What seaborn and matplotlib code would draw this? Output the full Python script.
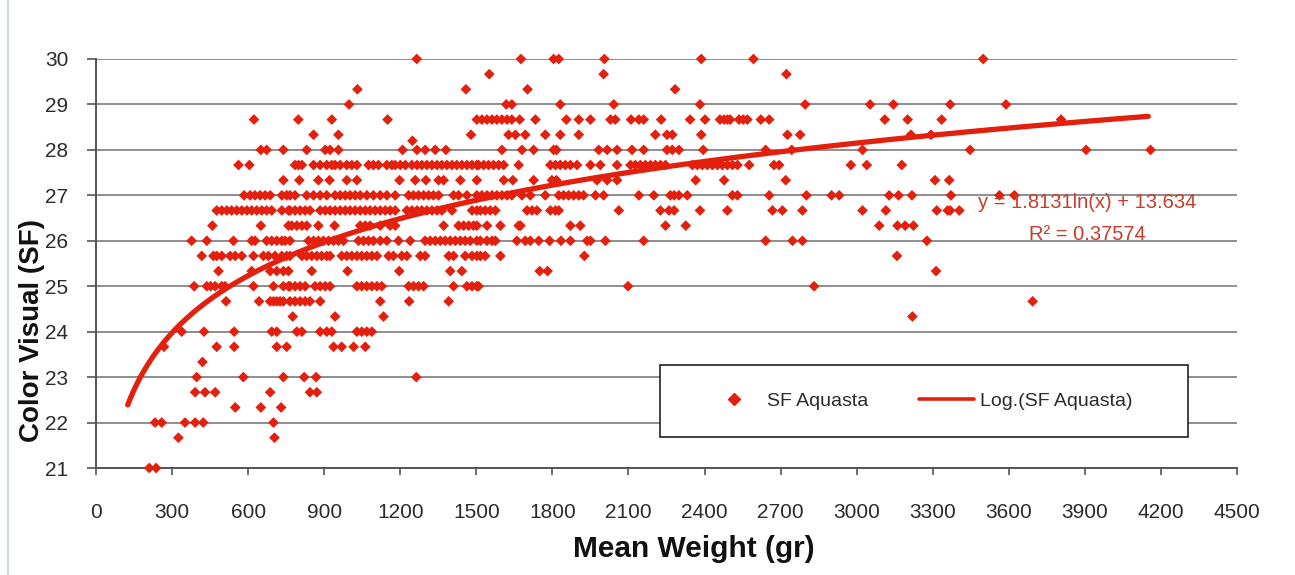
import numpy as np
import pandas as pd
import matplotlib
matplotlib.use("Agg")
import matplotlib.pyplot as plt
import seaborn as sns
from matplotlib.lines import Line2D
from matplotlib.patches import Rectangle

# ---------------- data (Mean Weight values, grouped by Color Visual score) ----------------
w_3000 = [1265, 1676, 1805, 1825, 2005, 2387, 2593, 3499]
w_2967 = [1551, 2002, 2723]
w_2933 = [1031, 1459, 1702, 2284]
w_2900 = [998, 1618, 1640, 1831, 2042, 2382, 2797, 3053, 3145, 3369, 3589]
w_2867 = [623, 798, 930, 1150, 1502, 1522, 1542, 1562, 1581, 1601, 1621, 1640, 1671, 1733,
          1855, 1904, 1950, 2029, 2048, 2110, 2141, 2160, 2229, 2343, 2402, 2461, 2477, 2490,
          2501, 2536, 2553, 2569, 2622, 2655, 3111, 3201, 3335, 3806]
w_2833 = [858, 956, 1479, 1627, 1654, 1693, 1772, 1831, 1904, 2206, 2252, 2273, 2387, 2727,
          2777, 3214, 3293]
w_2820 = [1248]
w_2800 = [650, 673, 739, 831, 904, 923, 956, 1209, 1266, 1298, 1338, 1380, 1601, 1680, 1726,
          1805, 1816, 1983, 2016, 2055, 2114, 2160, 2252, 2273, 2299, 2395, 2641, 2744, 3023,
          3447, 3905, 4159]
w_2767 = [562, 605, 785, 798, 812, 858, 884, 910, 930, 943, 963, 989, 1009, 1029, 1075, 1094,
          1114, 1147, 1167, 1180, 1200, 1220, 1246, 1266, 1285, 1305, 1325, 1345, 1364, 1384,
          1404, 1423, 1443, 1463, 1483, 1502, 1509, 1529, 1548, 1568, 1588, 1608, 1667, 1792,
          1812, 1831, 1851, 1871, 1897, 1950, 1989, 2055, 2108, 2127, 2147, 2167, 2187, 2206,
          2226, 2246, 2352, 2372, 2391, 2411, 2431, 2451, 2470, 2490, 2510, 2530, 2576, 2674,
          2694, 2977, 3040, 3178]
w_2733 = [739, 802, 877, 921, 989, 1029, 1197, 1259, 1301, 1351, 1371, 1437, 1502, 1608, 1644,
          1726, 1798, 1816, 1976, 2016, 2055, 2365, 2477, 2720, 3309, 3365]
w_2700 = [584, 608, 627, 647, 667, 687, 733, 752, 765, 785, 831, 858, 884, 910, 943, 963, 983,
          1002, 1022, 1042, 1068, 1094, 1121, 1147, 1180, 1233, 1252, 1272, 1292, 1312, 1331,
          1351, 1410, 1430, 1463, 1502, 1522, 1542, 1562, 1581, 1601, 1621, 1640, 1680, 1713,
          1772, 1825, 1844, 1864, 1884, 1904, 1923, 1970, 2002, 2141, 2200, 2265, 2280, 2299,
          2332, 2510, 2530, 2655, 2802, 2901, 2931, 3128, 3165, 3218, 3372, 3563, 3622]
w_2667 = [476, 496, 516, 535, 555, 575, 595, 614, 634, 654, 673, 693, 733, 759, 765, 785, 805,
          825, 844, 884, 904, 923, 943, 963, 983, 1002, 1022, 1042, 1062, 1081, 1101, 1121,
          1141, 1160, 1180, 1226, 1246, 1266, 1285, 1305, 1325, 1345, 1364, 1404, 1483, 1502,
          1516, 1535, 1555, 1575, 1700, 1720, 1739, 1792, 1812, 1825, 2062, 2226, 2260, 2280,
          2382, 2490, 2668, 2707, 2786, 3023, 3115, 3316, 3359, 3369, 3405]
w_2633 = [459, 650, 759, 772, 792, 812, 831, 877, 941, 1042, 1062, 1081, 1121, 1160, 1180,
          1371, 1430, 1450, 1470, 1489, 1502, 1542, 1595, 1667, 1674, 1871, 1910, 2246, 2326,
          3089, 3161, 3191, 3224]
w_2600 = [377, 437, 542, 614, 627, 673, 693, 713, 733, 746, 765, 838, 858, 877, 897, 917, 937,
          956, 976, 1035, 1055, 1075, 1094, 1121, 1147, 1193, 1239, 1298, 1318, 1338, 1358,
          1377, 1397, 1417, 1437, 1456, 1476, 1502, 1516, 1542, 1562, 1575, 1660, 1693, 1713,
          1746, 1789, 1834, 1871, 1937, 1950, 2009, 2160, 2641, 2747, 2786, 3277]
w_2567 = [417, 463, 476, 496, 529, 549, 575, 621, 660, 680, 706, 733, 752, 765, 812, 831, 851,
          871, 890, 910, 923, 969, 989, 1009, 1029, 1048, 1068, 1088, 1108, 1154, 1173, 1206,
          1226, 1279, 1298, 1391, 1410, 1456, 1483, 1502, 1516, 1535, 1595, 1926, 3159]
w_2533 = [483, 614, 687, 713, 739, 759, 851, 992, 1196, 1397, 1443, 1750, 1781, 3313]
w_2500 = [387, 437, 452, 470, 496, 509, 621, 700, 739, 759, 765, 785, 805, 825, 864, 884, 904,
          923, 1029, 1048, 1068, 1088, 1108, 1127, 1233, 1252, 1272, 1292, 1410, 1463, 1483,
          1502, 1509, 2098, 2832]
w_2467 = [513, 643, 687, 700, 713, 726, 739, 765, 785, 805, 825, 844, 884, 1121, 1235, 1391,
          3694]
w_2433 = [776, 943, 1134, 3220]
w_2400 = [338, 426, 545, 693, 713, 792, 812, 884, 910, 930, 1029, 1048, 1068, 1088]
w_2367 = [268, 476, 545, 713, 752, 937, 969, 1016, 1062]
w_2333 = [420]
w_2300 = [397, 581, 739, 821, 868, 1263]
w_2267 = [391, 430, 470, 687, 844, 871]
w_2233 = [549, 650, 730]
w_2200 = [233, 259, 351, 391, 423, 700]
w_2167 = [325, 704]
w_2100 = [210, 237]

color_levels = [30.0, 29.667, 29.333, 29.0, 28.667, 28.333, 28.2, 28.0, 27.667, 27.333, 27.0,
                26.667, 26.333, 26.0, 25.667, 25.333, 25.0, 24.667, 24.333, 24.0, 23.667,
                23.333, 23.0, 22.667, 22.333, 22.0, 21.667, 21.0]
weight_groups = [w_3000, w_2967, w_2933, w_2900, w_2867, w_2833, w_2820, w_2800, w_2767,
                 w_2733, w_2700, w_2667, w_2633, w_2600, w_2567, w_2533, w_2500, w_2467,
                 w_2433, w_2400, w_2367, w_2333, w_2300, w_2267, w_2233, w_2200, w_2167, w_2100]

trend_a = 1.8131
trend_b = 13.634
trend_r2 = 0.37574
trend_start, trend_end = 125, 4150

x_ticks = list(range(0, 4501, 300))
y_ticks = list(range(21, 31))

# ---------------- build frame ----------------
weights, colors = [], []
for lvl, grp in zip(color_levels, weight_groups):
    weights.extend(grp)
    colors.extend([lvl] * len(grp))
df = pd.DataFrame({"Mean Weight (gr)": weights, "Color Visual (SF)": colors})

tx = np.linspace(trend_start, trend_end, 400)
trend = pd.DataFrame({"x": tx, "y": trend_a * np.log(tx) + trend_b})

# ---------------- style ----------------
sns.set_theme(style="white")
plt.rcParams["font.family"] = ["Liberation Sans", "DejaVu Sans"]

RED = "#e31f0d"
TXT = "#2b2b2b"

fig = plt.figure(figsize=(12.95, 5.75), dpi=100)
fig.patch.set_facecolor("white")
ax = fig.add_axes([96 / 1295, 1 - 468 / 575, (1237 - 96) / 1295, (468 - 59) / 575])

ax.set_axisbelow(True)
ax.yaxis.grid(True, color="#8e8e8e", lw=1.4)
ax.xaxis.grid(False)

sns.scatterplot(data=df, x="Mean Weight (gr)", y="Color Visual (SF)", marker="D", s=30,
                color=RED, edgecolor="none", linewidth=0, ax=ax, clip_on=False, zorder=3,
                legend=False)
sns.lineplot(data=trend, x="x", y="y", color=RED, lw=3.8, ax=ax, zorder=4, legend=False)

ax.set_xlim(0, 4500)
ax.set_ylim(21, 30)
ax.set_xticks(x_ticks)
ax.set_yticks(y_ticks)
ax.tick_params(axis="x", direction="out", length=5, width=1.2, color="#555555",
               labelsize=15, labelcolor=TXT, pad=20, bottom=True)
ax.tick_params(axis="y", direction="out", length=6.5, width=1.2, color="#555555",
               labelsize=15, labelcolor=TXT, pad=13.5, left=True)

for side in ["top", "right"]:
    ax.spines[side].set_visible(False)
for side in ["left", "bottom"]:
    ax.spines[side].set_color("#555555")
    ax.spines[side].set_linewidth(1.4)

ax.set_xlabel("Mean Weight (gr)", fontsize=21.5, fontweight="bold", color="#111111")
ax.set_ylabel("Color Visual (SF)", fontsize=20, fontweight="bold", color="#111111")
ax.xaxis.set_label_coords((694 - 96) / 1141, (468 - 549) / 409)
ax.xaxis.label.set_va("center")
ax.yaxis.set_label_coords((32 - 96) / 1141, (468 - 330) / 409)
ax.yaxis.label.set_va("center")

# equation text
ax.text((1087 - 96) / 1141, (468 - 203) / 409,
        f"y = {trend_a}ln(x) + {trend_b}", transform=ax.transAxes,
        ha="center", va="center", fontsize=14.5, color="#c63d2c", zorder=6)
ax.text((1087 - 96) / 1141, (468 - 235) / 409,
        f"R² = {trend_r2}", transform=ax.transAxes,
        ha="center", va="center", fontsize=14.5, color="#c63d2c", zorder=6)

# legend box + legend
box = Rectangle(((660 - 96) / 1141, (468 - 437) / 409), (1188 - 660) / 1141, (437 - 365) / 409,
                transform=ax.transAxes, facecolor="white", edgecolor="#222222", lw=1.2,
                zorder=5, clip_on=False)
ax.add_patch(box)
handles = [Line2D([], [], marker="D", ls="none", color=RED, markersize=6),
           Line2D([], [], color=RED, lw=2.6)]
leg = ax.legend(handles, ["SF Aquasta", "Log.(SF Aquasta)"], ncol=2, frameon=False,
                loc="center left", bbox_to_anchor=((706 - 96) / 1141, (468 - 401) / 409),
                borderpad=0, borderaxespad=0, handlelength=2.85, handletextpad=0.3,
                columnspacing=2.6, fontsize=14, labelcolor=TXT)
leg.set_zorder(7)

# page border line on the left
fig.add_artist(Line2D([8 / 1295, 8 / 1295], [0, 1], transform=fig.transFigure,
                      color="#d3dde6", lw=1.5))

fig.savefig("out.png", dpi=100, facecolor="white")
